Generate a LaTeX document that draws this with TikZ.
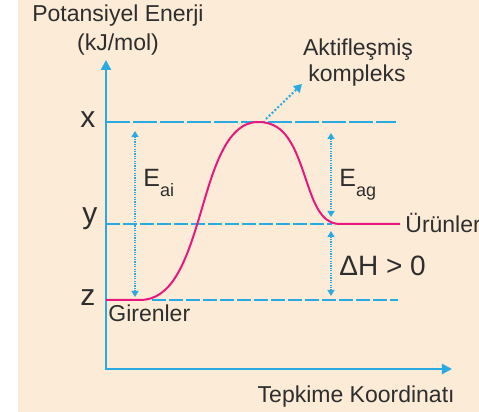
\documentclass[tikz,border=0pt]{standalone}
\usepackage{fontspec}
\setmainfont{Liberation Sans}
\usepackage{xcolor}
\usetikzlibrary{arrows.meta, positioning}

\definecolor{bgbeige}{HTML}{FCEBD6}
\definecolor{axisblue}{HTML}{29ABE2}
\definecolor{curvepink}{HTML}{E8197E}
\definecolor{labelgray}{HTML}{2E2E2E}

\begin{document}
\begin{tikzpicture}[
  x=0.5pt, y=-0.5pt,
  txt/.style={text=labelgray, inner sep=0pt, font=\fontsize{11.5}{13}\selectfont},
  lvl/.style={text=labelgray, inner sep=0pt, font=\fontsize{15}{17}\selectfont},
  energy/.style={text=labelgray, inner sep=0pt, font=\fontsize{12.5}{14}\selectfont},
  axis/.style={draw=axisblue, line width=1.1pt, {Triangle[length=5pt, width=5pt]}-{Triangle[length=5pt, width=5pt]}},
  toplevel/.style={draw=axisblue, line width=1.1pt, dash pattern=on 12pt off 1.5pt},
  level/.style={draw=axisblue, line width=0.7pt, dash pattern=on 7pt off 1.5pt},
  gap/.style={draw=axisblue, line width=0.6pt, dash pattern=on 0.6pt off 0.6pt, {Triangle[length=3pt, width=3.5pt]}-{Triangle[length=3pt, width=3.5pt]}},
  pointer/.style={draw=axisblue, line width=1pt, dash pattern=on 1pt off 1pt, -{Triangle[length=4pt, width=4.5pt]}},
  profile/.style={draw=curvepink, line width=1pt},
]

% Background
\clip (0,0) rectangle (479,412);
\fill[bgbeige] (18,0) rectangle (479,412);

% Axes
\coordinate (origin) at (106,369);
\coordinate (ytip) at (106,60);
\coordinate (xtip) at (452,369);
\draw[axis] (ytip) -- (origin) -- (xtip);

\node[txt, anchor=base] (title) at (118,22) {Potansiyel Enerji};
\node[txt, anchor=base] (unit) at (118,51) {(kJ/mol)};
\node[txt, anchor=base east] (xaxis) at (455,403) {Tepkime Koordinatı};

% Energy levels
\coordinate (xl) at (106,122);
\coordinate (xr) at (396,122);
\coordinate (yl) at (106,224);
\coordinate (yr) at (332,224);
\coordinate (zl) at (152,300);
\coordinate (zr) at (398,300);
\draw[toplevel] (xl) -- (xr);
\draw[level] (yl) -- (yr);
\draw[level] (zl) -- (zr);

\node[lvl, anchor=base] (xlab) at (88,128) {x};
\node[lvl, anchor=base] (ylab) at (90,224) {y};
\node[lvl, anchor=base] (zlab) at (88,306) {z};

% Reaction profile
\coordinate (reactants) at (106,300);
\coordinate (peak) at (258,122);
\coordinate (products) at (400,224);
\draw[profile] (reactants) -- (140,300)
  .. controls (172,300) and (186,262) .. (200,215)
  .. controls (212,175) and (225,122) .. (peak)
  .. controls (282,122) and (292,140) .. (302,168)
  .. controls (312,196) and (318,224) .. (340,224) -- (products);

\node[txt, anchor=base west] (girenler) at (108,322) {Girenler};
\node[txt, anchor=base west] (urunler) at (405,233) {Ürünler};

% Activated complex
\coordinate (ptail) at (266,119);
\coordinate (phead) at (302,84);
\draw[pointer] (ptail) -- (phead);
\node[txt, anchor=base] (aktif) at (358,55) {Aktifleşmiş};
\node[txt, anchor=base] (kompleks) at (357,82) {kompleks};

% Energy gaps
\coordinate (aitop) at (135,131);
\coordinate (aibot) at (135,297);
\coordinate (agtop) at (331,133);
\coordinate (agbot) at (331,217);
\coordinate (dhtop) at (331,231);
\coordinate (dhbot) at (331,296);
\draw[gap] (aitop) -- (aibot);
\draw[gap] (agtop) -- (agbot);
\draw[gap] (dhtop) -- (dhbot);

\node[energy, anchor=base west] (eai) at (143,187) {E\raisebox{-5pt}{\fontsize{9}{9}\selectfont ai}};
\node[energy, anchor=base west] (eag) at (339,187) {E\raisebox{-5pt}{\fontsize{9}{9}\selectfont ag}};
\node[energy, anchor=base west, font=\fontsize{14}{16}\selectfont] (dh) at (339,276) {ΔH > 0};

\end{tikzpicture}
\end{document}
